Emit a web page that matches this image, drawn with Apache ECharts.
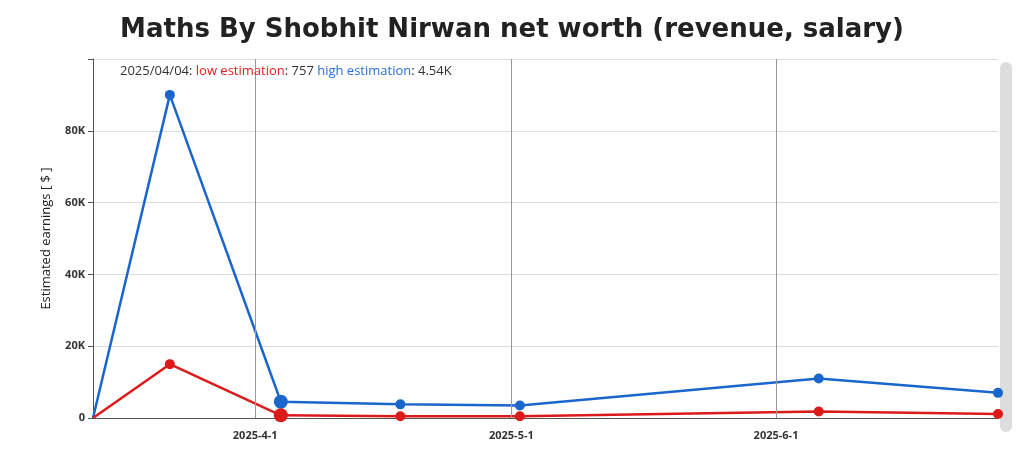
<!DOCTYPE html>
<html><head><meta charset="utf-8">
<script src="https://cdn.jsdelivr.net/npm/echarts@6/dist/echarts.min.js"></script>
<style>html,body{margin:0;padding:0;background:#fff}#c{width:1024px;height:461px}</style>
</head><body><div id="c"></div>
<script>
const dates = ['2025-03-13','2025-03-22','2025-04-04','2025-04-18','2025-05-02','2025-06-06','2025-06-27'];
const lowValues = [0, 15000, 757, 500, 500, 1800, 1100];
const highValues = [0, 90000, 4540, 3800, 3500, 11000, 7000];
const yTicks = [0, 20000, 40000, 60000, 80000];
const xTickDates = ['2025-04-01','2025-05-01','2025-06-01'];
const hiIdx = 2;
const ts = d => Date.UTC(+d.slice(0,4), +d.slice(5,7)-1, +d.slice(8,10));
const xTicks = xTickDates.map(ts);
function mk(vals){return dates.map((d,i)=>({value:[ts(d),vals[i]],symbolSize:i===hiIdx?14:(i===0?0:10)}));}
const chart = echarts.init(document.getElementById('c'));
chart.setOption({
  animation:false,
  title:{text:'Maths By Shobhit Nirwan net worth (revenue, salary)',left:'center',top:12,
    textStyle:{fontFamily:'DejaVu Sans',fontWeight:'bold',fontSize:26,color:'#222'}},
  grid:{left:93,right:26,top:59,bottom:43},
  xAxis:{type:'value',min:ts(dates[0]),max:ts(dates[dates.length-1]),
    axisLine:{lineStyle:{color:'#555'}},axisTick:{show:false},splitLine:{show:false},
    axisLabel:{fontSize:11,fontWeight:'bold',color:'#333',fontFamily:'Open Sans',margin:12,
      customValues:xTicks,
      formatter:v=>{const d=new Date(v);return d.getUTCFullYear()+'-'+(d.getUTCMonth()+1)+'-'+d.getUTCDate();}}
  },
  yAxis:{type:'value',min:0,max:100000,interval:20000,
    name:'Estimated earnings [ $ ]',nameLocation:'middle',nameGap:40,
    nameTextStyle:{fontSize:13,color:'#222',fontFamily:'Open Sans'},
    axisLine:{show:true,lineStyle:{color:'#555'}},
    axisLabel:{fontSize:11,fontWeight:'bold',color:'#333',fontFamily:'Open Sans',
      formatter:v=>yTicks.includes(v)?(v===0?'0':(v/1000)+'K'):''},
    splitLine:{lineStyle:{color:'#ddd'}}
  },
  graphic:[
    {type:'text',left:120,top:65,z:10,style:{rich:{a:{fill:'#333'},r:{fill:'#e02020'},b:{fill:'#2a6fd0'}},
      text:'{a|2025/04/04: }{r|low estimation}{a|: 757 }{b|high estimation}{a|: 4.54K}',
      fontSize:13,fontFamily:'Open Sans'}},
    {type:'rect',shape:{x:1000,y:62,width:12,height:370,r:6},style:{fill:'#ddd'}}
  ],
  series:[
    {name:'high estimation',type:'line',data:mk(highValues),symbol:'circle',lineStyle:{width:2.5,color:'#1a66cc'},itemStyle:{color:'#1a66cc'},
      markLine:{silent:true,symbol:'none',label:{show:false},lineStyle:{color:'#999',type:'solid',width:1},
        data:xTicks.map(x=>({xAxis:x}))}},
    {name:'low estimation',type:'line',data:mk(lowValues),symbol:'circle',lineStyle:{width:2.5,color:'#dd1a1a'},itemStyle:{color:'#dd1a1a'}}
  ]
});
</script></body></html>
